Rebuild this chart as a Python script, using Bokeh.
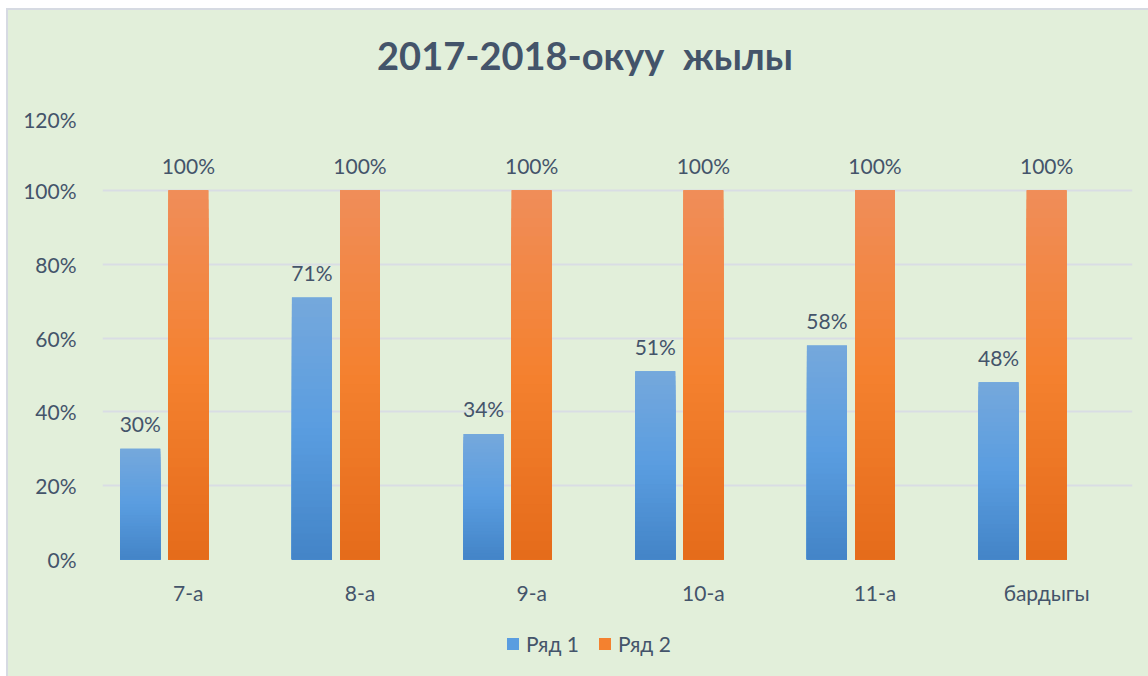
import numpy as np
from bokeh.plotting import figure
from bokeh.layouts import column
from bokeh.models import (ColumnDataSource, FactorRange, FixedTicker, NumeralTickFormatter,
                          Legend, LegendItem, Range1d, Div)
from bokeh.transform import dodge
from bokeh.core.properties import value
from bokeh.embed import file_html
from bokeh.resources import INLINE

# ---- data ----
categories = ["7-а", "8-а", "9-а", "10-а", "11-а", "бардыгы"]
series1 = [0.30, 0.71, 0.34, 0.51, 0.58, 0.48]
series2 = [1.00, 1.00, 1.00, 1.00, 1.00, 1.00]
series_names = ["Ряд 1", "Ряд 2"]
y_ticks = [0, 0.2, 0.4, 0.6, 0.8, 1.0, 1.2]
title_text = "2017-2018-окуу  жылы"

FONT = "Lato"
TXT = "#44546a"
BG = "#e2efda"
GRID = "#d9dde4"
EDGE = "#d6dae2"

blue_stops = ["#75a8dc", "#5a9de0", "#4384c7"]
orange_stops = ["#f08d59", "#f4812f", "#e56b1a"]


def hex2rgb(h):
    h = h.lstrip("#")
    return np.array([int(h[i:i + 2], 16) for i in (0, 2, 4)], dtype=float)


def grad(stops, t):
    # t=0 top, t=1 bottom
    if t <= 0.5:
        a, b, u = hex2rgb(stops[0]), hex2rgb(stops[1]), t / 0.5
    else:
        a, b, u = hex2rgb(stops[1]), hex2rgb(stops[2]), (t - 0.5) / 0.5
    c = a + (b - a) * u
    return "#%02x%02x%02x" % tuple(int(round(v)) for v in c)


N = 40


def slices(vals, stops):
    xs, tops, cols = [], [], []
    for cat, v in zip(categories, vals):
        for k in range(N, 0, -1):
            xs.append(cat)
            tops.append(v * k / N)
            cols.append(grad(stops, 1 - (k - 0.5) / N))
    return ColumnDataSource(dict(x=xs, top=tops, color=cols))


# ---- title strip ----
title_div = Div(text=('<div style="width:1140px;height:96px;line-height:90px;text-align:center;'
                      'padding-left:14px;box-sizing:border-box;white-space:pre;'
                      'font-family:Lato;font-size:38px;font-weight:bold;color:%s;">%s</div>')
                % (TXT, title_text), width=1140, height=96)
title_div.margin = 0

p = figure(width=1140, height=504, x_range=FactorRange(*categories), y_range=(0, 1.2),
           output_backend="svg", toolbar_location=None,
           min_border_left=94, min_border_right=16, min_border_top=10, min_border_bottom=51)
p.background_fill_color = None
p.border_fill_color = None
p.outline_line_color = None

bw = 0.233
off1 = -0.28
off2 = 0.0

src1 = ColumnDataSource(dict(x=categories, top=series1, lab=["%d%%" % round(v * 100) for v in series1]))
src2 = ColumnDataSource(dict(x=categories, top=series2, lab=["%d%%" % round(v * 100) for v in series2]))

p.vbar(x=dodge("x", off1, range=p.x_range), top="top", width=bw, source=src1,
       fill_color=blue_stops[1], line_color=None)
p.vbar(x=dodge("x", off2, range=p.x_range), top="top", width=bw, source=src2,
       fill_color=orange_stops[1], line_color=None)

p.vbar(x=dodge("x", off1, range=p.x_range), top="top", width=bw, source=slices(series1, blue_stops),
       fill_color="color", line_color=None)
p.vbar(x=dodge("x", off2, range=p.x_range), top="top", width=bw, source=slices(series2, orange_stops),
       fill_color="color", line_color=None)

for src, off in ((src1, off1), (src2, off2)):
    p.text(x=dodge("x", off, range=p.x_range), y="top", text="lab", source=src,
           text_font=value(FONT), text_font_size="21px", text_color=TXT,
           text_align="center", text_baseline="alphabetic", y_offset=-25)

p.yaxis.ticker = FixedTicker(ticks=y_ticks)
p.yaxis.formatter = NumeralTickFormatter(format="0%")
for ax in (p.xaxis, p.yaxis):
    ax.axis_line_color = None
    ax.major_tick_line_color = None
    ax.minor_tick_line_color = None
    ax.major_label_text_font = FONT
    ax.major_label_text_font_size = "21px"
    ax.major_label_text_color = TXT
p.yaxis.major_label_standoff = 20
p.xaxis.major_label_standoff = 14
p.xgrid.grid_line_color = None
p.ygrid.grid_line_color = GRID
p.ygrid.grid_line_width = 2

# ---- legend strip ----
pl = figure(width=1140, height=66, output_backend="svg", toolbar_location=None,
            x_range=Range1d(0, 1), y_range=Range1d(0, 1),
            min_border_left=0, min_border_right=0, min_border_top=0, min_border_bottom=0)
pl.background_fill_color = None
pl.border_fill_color = None
pl.outline_line_color = None
pl.axis.visible = False
pl.grid.grid_line_color = None
# zero-height proxies: they only provide the legend swatches
lr1 = pl.vbar(x=[0.5], top=[0], bottom=[0], width=0, fill_color=blue_stops[1], line_color=None)
lr2 = pl.vbar(x=[0.5], top=[0], bottom=[0], width=0, fill_color=orange_stops[1], line_color=None)

legend = Legend(items=[LegendItem(label=series_names[0], renderers=[lr1]),
                       LegendItem(label=series_names[1], renderers=[lr2])],
                orientation="horizontal", location=(403, 20),
                background_fill_alpha=0, border_line_color=None,
                label_text_font=FONT, label_text_font_size="21px", label_text_color=TXT,
                glyph_width=15, glyph_height=15, label_standoff=6, spacing=18,
                padding=4, margin=0)
pl.add_layout(legend, "center")

layout = column(title_div, p, pl, spacing=0)
layout.margin = (8, 0, 0, 6)
layout.styles = {"background-color": BG, "border-top": "2px solid " + EDGE,
                 "border-left": "2px solid " + EDGE}
open("out.html", "w").write(file_html(layout, INLINE))
